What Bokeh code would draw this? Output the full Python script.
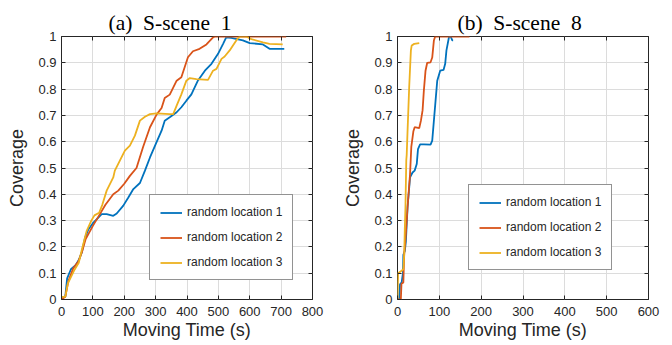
from bokeh.plotting import figure
from bokeh.layouts import row
from bokeh.models import Range1d, FixedTicker, Legend, LegendItem, LinearAxis
from bokeh.embed import file_html
from bokeh.resources import INLINE

# ---- data: (a) S-scene 1 ----
a_t1 = [0, 12, 18, 30, 45, 55, 65, 75, 85, 100, 112, 128, 144, 165, 176, 197, 213, 229, 250, 266, 282, 303, 319, 329, 345, 367, 382, 398, 414, 435, 457, 478, 499, 515, 525, 541, 578, 600, 642, 652, 663, 710]
a_c1 = [0.01, 0.01, 0.08, 0.115, 0.13, 0.15, 0.18, 0.235, 0.265, 0.29, 0.305, 0.325, 0.325, 0.318, 0.327, 0.357, 0.388, 0.42, 0.443, 0.49, 0.54, 0.598, 0.642, 0.68, 0.693, 0.712, 0.731, 0.756, 0.78, 0.833, 0.87, 0.896, 0.934, 0.972, 0.997, 0.995, 0.985, 0.975, 0.97, 0.962, 0.953, 0.953]
a_t2 = [0, 12, 22, 38, 54, 65, 77, 100, 120, 140, 165, 181, 200, 218, 239, 260, 282, 303, 319, 329, 345, 367, 382, 403, 419, 440, 462, 483, 490, 716]
a_c2 = [0, 0.01, 0.07, 0.12, 0.145, 0.18, 0.23, 0.28, 0.32, 0.36, 0.40, 0.414, 0.44, 0.47, 0.50, 0.58, 0.655, 0.703, 0.728, 0.766, 0.779, 0.832, 0.845, 0.921, 0.944, 0.953, 0.97, 0.997, 1.0, 1.0]
a_t3 = [0, 12, 20, 40, 55, 65, 80, 95, 105, 120, 130, 144, 165, 170, 186, 202, 218, 234, 250, 266, 282, 303, 345, 356, 367, 382, 398, 409, 430, 467, 483, 494, 510, 520, 536, 557, 568, 589, 605, 642, 663, 705]
a_c3 = [0.01, 0.01, 0.06, 0.11, 0.14, 0.19, 0.26, 0.30, 0.32, 0.33, 0.36, 0.414, 0.464, 0.49, 0.528, 0.566, 0.585, 0.623, 0.68, 0.695, 0.705, 0.708, 0.705, 0.705, 0.737, 0.78, 0.832, 0.842, 0.838, 0.835, 0.87, 0.877, 0.915, 0.924, 0.947, 0.985, 1.0, 1.0, 0.99, 0.978, 0.972, 0.97]

# ---- data: (b) S-scene 8 ----
b_t1 = [0, 4, 6, 10, 13, 14, 17.5, 20, 24, 28, 30, 36, 41, 46, 49, 54, 63, 79, 83, 87, 91, 95, 102, 110, 114, 117, 123, 127, 131, 133]
b_c1 = [0, 0, 0.058, 0.065, 0.1, 0.17, 0.185, 0.22, 0.35, 0.426, 0.465, 0.483, 0.49, 0.515, 0.572, 0.59, 0.59, 0.589, 0.604, 0.68, 0.756, 0.832, 0.87, 0.873, 0.896, 0.947, 0.997, 1.0, 0.985, 0.985]
b_t2 = [1, 8, 9.5, 14, 16, 20, 24, 30, 33, 38, 41, 52, 56, 60, 63, 67, 71, 79, 83, 87, 90, 172]
b_c2 = [0, 0, 0.06, 0.065, 0.17, 0.25, 0.35, 0.477, 0.58, 0.64, 0.655, 0.652, 0.68, 0.72, 0.794, 0.87, 0.9, 0.902, 0.92, 0.985, 1.0, 1.0]
b_t3 = [0, 1.5, 8, 14, 16, 17.5, 19, 21, 22, 24, 28, 32, 34, 40, 52]
b_c3 = [0, 0.1, 0.107, 0.115, 0.17, 0.27, 0.35, 0.53, 0.55, 0.64, 0.81, 0.947, 0.966, 0.972, 0.975]

series_names = ["random location 1", "random location 2", "random location 3"]
colors = ["#0072BD", "#D95319", "#EDB120"]
y_ticks = [0, 0.1, 0.2, 0.3, 0.4, 0.5, 0.6, 0.7, 0.8, 0.9, 1]
a_x_ticks = [0, 100, 200, 300, 400, 500, 600, 700, 800]
b_x_ticks = [0, 100, 200, 300, 400, 500, 600]

TXT = "#262626"


def style_axis(ax):
    ax.axis_line_color = None
    ax.major_tick_in = 4
    ax.major_tick_out = 0
    ax.major_tick_line_color = TXT
    ax.minor_tick_line_color = None
    ax.major_label_text_font = "Liberation Sans"
    ax.major_label_text_font_size = "13px"
    ax.major_label_text_color = TXT
    ax.axis_label_text_font = "Liberation Sans"
    ax.axis_label_text_font_size = "18px"
    ax.axis_label_text_font_style = "normal"
    ax.axis_label_text_color = TXT


def make(title, title_offset, xmax, xticks, data, legend_loc):
    p = figure(width=336, height=345, output_backend="svg", toolbar_location=None,
               x_range=Range1d(0, xmax), y_range=Range1d(0, 1),
               frame_width=251, frame_height=263,
               min_border_left=61, min_border_right=24,
               min_border_top=36, min_border_bottom=46)
    p.title.text = title
    p.title.text_font = "Liberation Serif"
    p.title.text_font_size = "21.5px"
    p.title.text_font_style = "normal"
    p.title.text_color = "black"
    p.title.align = "left"
    p.title.offset = title_offset
    p.title.standoff = 4
    p.outline_line_color = TXT
    p.outline_line_width = 1
    p.background_fill_color = "white"
    p.border_fill_color = "white"

    p.xaxis.ticker = FixedTicker(ticks=xticks)
    p.yaxis.ticker = FixedTicker(ticks=y_ticks)
    p.yaxis.major_label_overrides = {0: "0", 1: "1"}
    for ax in (p.xaxis[0], p.yaxis[0]):
        style_axis(ax)
    p.xaxis.axis_label = "Moving Time (s)"
    p.yaxis.axis_label = "Coverage"
    p.xaxis.major_label_standoff = 7
    p.xaxis.axis_label_standoff = 1
    p.yaxis.major_label_standoff = 5
    p.yaxis.axis_label_standoff = 8

    # box ticks on top and right (labels not drawn)
    top = LinearAxis(ticker=FixedTicker(ticks=xticks))
    right = LinearAxis(ticker=FixedTicker(ticks=y_ticks))
    for ax in (top, right):
        style_axis(ax)
        ax.major_label_text_font_size = "1px"
        ax.major_label_text_color = None
        ax.major_label_standoff = 0
    p.add_layout(top, "above")
    p.add_layout(right, "right")

    p.grid.grid_line_color = "#dcdcdc"
    p.grid.grid_line_width = 1

    items = []
    for (t, c), col, name in zip(data, colors, series_names):
        r = p.line(t, c, line_color=col, line_width=1.8)
        items.append(LegendItem(label=name, renderers=[r]))
    leg = Legend(items=items, location=legend_loc,
                 label_text_font="Liberation Sans", label_text_font_size="12px",
                 label_text_color=TXT, border_line_color=TXT, border_line_width=1,
                 background_fill_color="white", background_fill_alpha=1,
                 padding=10, spacing=11, glyph_width=22, glyph_height=13,
                 label_height=13, label_standoff=5, margin=0)
    p.add_layout(leg)
    return p


pa = make("(a)\u2002S-scene\u20021", 47, 800, a_x_ticks,
          [(a_t1, a_c1), (a_t2, a_c2), (a_t3, a_c3)], (88, 19))
pb = make("(b)\u2002S-scene\u20028", 60, 600, b_x_ticks,
          [(b_t1, b_c1), (b_t2, b_c2), (b_t3, b_c3)], (71, 29))

layout = row(pa, pb)
open("out.html", "w").write(file_html(layout, INLINE))
